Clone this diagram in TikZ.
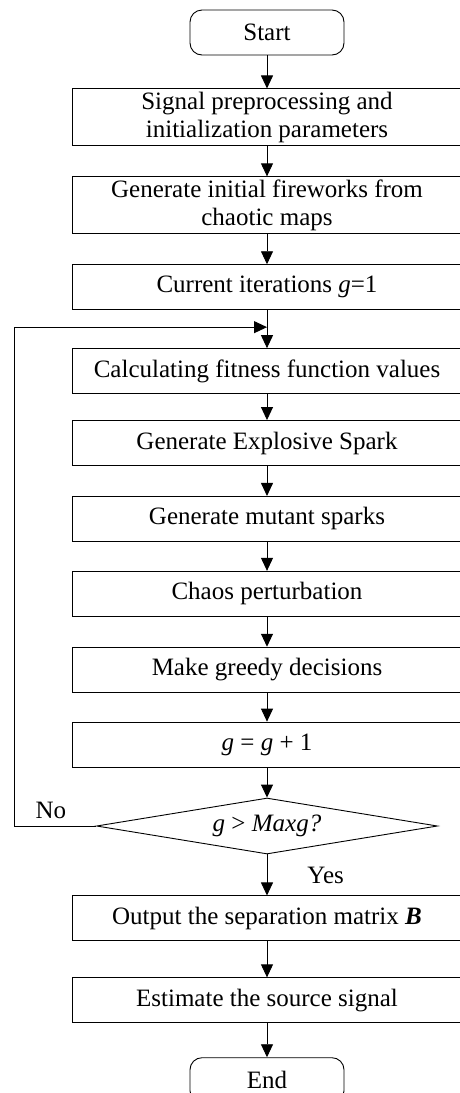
\documentclass[tikz,border=0pt]{standalone}
\usepackage{fontspec}
\setmainfont{Liberation Serif}
\usetikzlibrary{shapes.geometric, arrows.meta, positioning}

\begin{document}
\begin{tikzpicture}[
    x=1pt, y=1pt,
    font=\fontsize{25}{28}\selectfont,
    every node/.style={draw, line width=0.9pt, align=center},
    process/.style={rectangle, minimum width=390pt, minimum height=45pt, inner ysep=1pt},
    tallprocess/.style={process, minimum height=57pt},
    terminal/.style={rectangle, rounded corners=12pt, minimum width=154pt, minimum height=45pt},
    decision/.style={diamond, aspect=6, inner sep=0pt, minimum width=341pt, minimum height=56pt},
    flowline/.style={draw, line width=0.9pt, -{Triangle[length=13pt, width=12pt]}},
    tag/.style={draw=none, inner sep=2pt}
]

\useasboundingbox (0,0) rectangle (459,-1093);

\node[terminal] (start) at (267,-32.5) {Start};
\node[tallprocess, below=33pt of start] (prep) {Signal preprocessing and\\initialization parameters};
\node[tallprocess, below=30pt of prep] (init) {Generate initial fireworks from\\chaotic maps};
\node[process, below=30pt of init] (iter) {Current iterations \textit{g}=1};
\node[process, below=38pt of iter] (fitness) {Calculating fitness function values};
\node[process, below=26pt of fitness] (explode) {Generate Explosive Spark};
\node[process, below=30pt of explode] (mutant) {Generate mutant sparks};
\node[process, below=29pt of mutant] (chaos) {Chaos perturbation};
\node[process, below=30pt of chaos] (greedy) {Make greedy decisions};
\node[process, below=29pt of greedy] (incr) {\textit{g} = \textit{g} + 1};
\node[decision, below=30pt of incr] (check) {\textit{g} > \textit{Maxg?}};
\node[process, below=41pt of check] (output) {Output the separation matrix \textbf{\textit{B}}};
\node[process, below=36pt of output] (estimate) {Estimate the source signal};
\node[terminal, below=34pt of estimate] (end) {End};

% main flow
\foreach \a/\b in {start/prep, prep/init, init/iter, iter/fitness, fitness/explode,
                   explode/mutant, mutant/chaos, chaos/greedy, greedy/incr, incr/check,
                   output/estimate, estimate/end}
    \draw[flowline] (\a) -- (\b);

\draw[flowline] (check) -- node[tag, right, xshift=38pt] {Yes} (output);

% loop back
\coordinate (merge) at ([yshift=-17pt]iter.south);
\draw[flowline] (check.west) -- node[tag, above, pos=0.55, yshift=5pt] {No} ++(-82,0) |- (merge);

\end{tikzpicture}
\end{document}
